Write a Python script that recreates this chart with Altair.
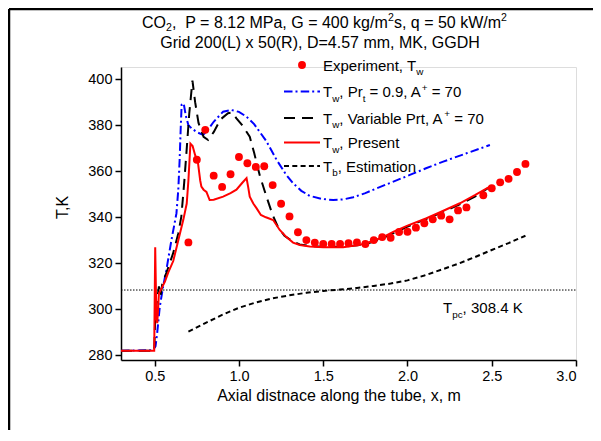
import altair as alt
import pandas as pd

# ---------------- data ----------------
exp_x = [0.70, 0.75, 0.80, 0.85, 0.90, 0.95, 1.00, 1.05, 1.10, 1.15, 1.20, 1.25, 1.30, 1.35,
         1.40, 1.45, 1.50, 1.55, 1.60, 1.65, 1.70, 1.75, 1.80, 1.85, 1.90, 1.95, 2.00, 2.05,
         2.10, 2.15, 2.20, 2.25, 2.30, 2.35, 2.45, 2.50, 2.55, 2.60, 2.65, 2.70]
exp_T = [329.1, 365.0, 378.0, 358.1, 353.2, 358.7, 366.2, 363.5, 361.9, 362.2, 354.0, 345.9,
         340.4, 333.5, 330.1, 329.0, 328.4, 328.4, 328.4, 328.7, 329.1, 328.4, 330.1, 331.4,
         331.1, 333.6, 333.7, 335.5, 337.4, 339.1, 340.7, 339.1, 343.0, 344.3, 349.6, 352.6,
         355.2, 356.7, 359.7, 363.2]

present_x = [0.30, 0.497, 0.503, 0.510, 0.515, 0.520, 0.525, 0.540, 0.560, 0.580, 0.610, 0.640,
             0.670, 0.690, 0.700, 0.712, 0.725, 0.740, 0.757, 0.770, 0.777, 0.790, 0.807, 0.826,
             0.850, 0.906, 0.950, 0.985, 1.020, 1.045, 1.055, 1.064, 1.085, 1.104, 1.130, 1.160,
             1.203, 1.242, 1.280, 1.321, 1.361, 1.420, 1.500, 1.618, 1.700, 1.757, 1.850, 1.915,
             2.000, 2.113, 2.200, 2.311, 2.400, 2.489]
present_T = [282.0, 282.0, 327.0, 296.0, 294.0, 300.0, 307.0, 309.0, 312.0, 316.0, 321.0, 330.0,
             339.0, 346.0, 356.0, 372.0, 371.0, 367.0, 363.5, 356.0, 353.3, 352.0, 351.0, 347.5,
             347.6, 349.0, 350.5, 352.0, 355.0, 357.0, 353.0, 349.0, 346.0, 344.0, 341.0, 340.0,
             338.8, 334.5, 331.5, 329.0, 328.0, 327.3, 327.0, 327.0, 327.8, 328.7, 331.2, 333.7,
             336.4, 339.6, 342.4, 346.1, 349.6, 353.3]

varprt_x = [0.30, 0.497, 0.505, 0.515, 0.525, 0.535, 0.545, 0.570, 0.609, 0.640, 0.658, 0.675,
            0.688, 0.705, 0.724, 0.740, 0.760, 0.790, 0.817, 0.850, 0.890, 0.935, 0.960, 0.985,
            1.020, 1.064, 1.090, 1.124, 1.163, 1.200, 1.230, 1.270, 1.320, 1.360, 1.420, 1.500,
            1.600, 1.700, 1.760, 1.850, 1.920, 2.000, 2.110, 2.200, 2.310, 2.400, 2.480]
varprt_T = [282.0, 282.0, 300.0, 304.0, 310.0, 306.0, 311.0, 316.0, 324.3, 333.0, 340.3, 355.0,
            367.8, 385.0, 399.4, 390.0, 381.0, 375.0, 373.6, 377.0, 382.5, 385.2, 385.5, 383.0,
            380.0, 375.0, 368.0, 358.0, 349.0, 341.0, 336.0, 332.0, 329.5, 328.2, 327.5, 327.2,
            327.2, 327.8, 328.5, 330.8, 333.2, 336.0, 339.2, 342.0, 345.6, 349.0, 352.8]

prt09_x = [0.30, 0.490, 0.505, 0.515, 0.530, 0.550, 0.569, 0.599, 0.629, 0.640, 0.648, 0.655,
           0.660, 0.672, 0.685, 0.700, 0.718, 0.750, 0.787, 0.810, 0.850, 0.906, 0.955, 1.000,
           1.045, 1.090, 1.124, 1.163, 1.223, 1.280, 1.321, 1.370, 1.420, 1.490, 1.559, 1.620,
           1.678, 1.750, 1.817, 1.920, 2.014, 2.110, 2.212, 2.350, 2.489]
prt09_T = [282.0, 282.3, 284.0, 290.0, 301.0, 310.0, 317.0, 330.0, 341.7, 352.0, 365.0, 380.0,
           389.0, 389.5, 384.0, 380.0, 378.7, 377.0, 375.8, 377.5, 381.5, 385.9, 386.6, 385.8,
           383.7, 380.5, 377.0, 373.0, 365.0, 358.5, 354.8, 351.5, 349.3, 348.0, 347.5, 347.8,
           348.7, 350.5, 352.6, 355.6, 358.4, 361.3, 364.2, 367.8, 371.4]

tb_x = [0.70, 0.80, 0.90, 1.00, 1.10, 1.20, 1.30, 1.40, 1.50, 1.60, 1.70, 1.80, 1.90, 2.00,
        2.10, 2.20, 2.30, 2.40, 2.50, 2.60, 2.70]
tb_T = [290.3, 294.0, 297.6, 300.7, 303.0, 304.8, 306.1, 307.2, 308.0, 308.6, 309.3, 310.2,
        311.2, 312.6, 314.7, 317.2, 319.8, 322.7, 325.8, 328.8, 332.0]

tpc_x = [0.3, 3.0]
tpc_T = [308.4, 308.4]

x_ticks = [0.5, 1.0, 1.5, 2.0, 2.5, 3.0]
y_ticks = [280, 300, 320, 340, 360, 380, 400]

title_1 = [("CO", "n"), ("2", "sub"), (",", "n"), ("  ", "n"), ("P = 8.12 MPa, G = 400 kg/m", "n"),
           ("2", "sup"), ("s, q = 50 kW/m", "n"), ("2", "sup")]
title_2 = [("Grid 200(L) x 50(R), D=4.57 mm, MK, GGDH", "n")]
legend_rows = [
    [("Experiment, T", "n"), ("w", "sub")],
    [("T", "n"), ("w", "sub"), (", Pr", "n"), ("t", "sub"), (" = 0.9, A", "n"), ("+", "sup"), (" = 70", "n")],
    [("T", "n"), ("w", "sub"), (", Variable Prt, A", "n"), ("+", "sup"), (" = 70", "n")],
    [("T", "n"), ("w", "sub"), (", Present", "n")],
    [("T", "n"), ("b", "sub"), (", Estimation", "n")],
]
tpc_label = [("T", "n"), ("pc", "sub"), (", 308.4 K", "n")]
x_title = "Axial distnace along the tube, x, m"
y_title = "T,K"

# ---------------- layout ----------------
FONT = "Liberation Sans"
PLOT_L, PLOT_T = 121, 67
W, H = 455, 293
xs = alt.Scale(domain=[0.3, 3.0], nice=False, zero=False)
ys = alt.Scale(domain=[278, 405.3], nice=False, zero=False)

common_axis = dict(grid=False, domainColor="black", tickColor="black", labelColor="black",
                   domainWidth=1.5, tickWidth=1.5, tickSize=6, labelFont=FONT,
                   labelFontSize=14.5, title=None)
xaxis = alt.Axis(values=x_ticks, format=".1f", labelPadding=3, **common_axis)
yaxis = alt.Axis(values=y_ticks, format="d", labelPadding=3, **common_axis)

AW = {' ': 278, ',': 278, '.': 278, '=': 584, '+': 584, '/': 278, '(': 333, ')': 333,
      'A': 667, 'C': 722, 'D': 722, 'E': 667, 'G': 778, 'H': 722, 'K': 667, 'L': 556, 'M': 833,
      'O': 778, 'P': 667, 'R': 722, 'T': 611, 'V': 667, 'W': 944,
      'a': 556, 'b': 556, 'c': 500, 'd': 556, 'e': 556, 'g': 556, 'h': 556, 'i': 222, 'k': 500,
      'l': 222, 'm': 833, 'n': 556, 'o': 556, 'p': 556, 'q': 556, 'r': 333, 's': 500, 't': 278,
      'u': 556, 'v': 500, 'w': 722, 'x': 500}


def tw(s, fs):
    return sum(AW.get(c, 556) for c in s) * fs / 1000.0


text_rows = []


def add_rich(parts, x0, base, fs, anchor="left", sub_dy=0.30):
    sizes = [fs if k == "n" else fs * 0.66 for _, k in parts]
    total = sum(tw(t, f) for (t, _), f in zip(parts, sizes))
    x = x0 - total / 2 if anchor == "center" else x0
    for (t, k), f in zip(parts, sizes):
        dy = 0 if k == "n" else (fs * sub_dy if k == "sub" else -fs * 0.42)
        lead = len(t) - len(t.lstrip(" "))
        s = t.strip(" ")
        if s:
            text_rows.append(dict(tx=x + tw(" " * lead, f) - PLOT_L, ty=base + dy - PLOT_T,
                                  t=s, fs=f))
        x += tw(t, f)


add_rich(title_1, 324.5, 27.5, 16, "center", sub_dy=0.2)
add_rich(title_2, 320, 47.5, 16, "center")
leg_base = [70.5, 97, 123.5, 148, 171.5]
for parts, b in zip(legend_rows, leg_base):
    add_rich(parts, 323, b, 15)
add_rich(tpc_label, 443, 313, 15)
add_rich([(x_title, "n")], 339, 401, 16, "center")

texts_df = pd.DataFrame(text_rows)


def line_df(xv, tv):
    return pd.DataFrame({"x": xv, "T": tv, "i": list(range(len(xv)))})


def line_layer(xv, tv, color, dash=None, width=2.0):
    kw = dict(color=color, strokeWidth=width, clip=True)
    if dash:
        kw["strokeDash"] = dash
    return alt.Chart(line_df(xv, tv)).mark_line(**kw).encode(
        x=alt.X("x:Q", scale=xs, axis=xaxis),
        y=alt.Y("T:Q", scale=ys, axis=yaxis),
        order="i:Q",
    )


tpc_layer = line_layer(tpc_x, tpc_T, "black", [1.5, 1.5], 1.0)
tb_layer = line_layer(tb_x, tb_T, "black", [5, 3.3], 2.0)
blue_layer = line_layer(prt09_x, prt09_T, "#0000FF", [8.5, 3, 2, 3.2], 2.0)
black_layer = line_layer(varprt_x, varprt_T, "black", [11, 7], 2.0)
red_layer = line_layer(present_x, present_T, "#FF0000", None, 2.0)

exp_layer = alt.Chart(pd.DataFrame({"x": exp_x, "T": exp_T})).mark_circle(
    size=62, color="#FF0000", opacity=1).encode(
    x=alt.X("x:Q", scale=xs, axis=xaxis),
    y=alt.Y("T:Q", scale=ys, axis=yaxis),
)

# legend samples (pixel positions)
leg_centers = [b - 5.5 for b in leg_base]
samples = [
    ("#0000FF", [8.5, 3, 2, 3.2], leg_centers[1]),
    ("black", [11, 7], leg_centers[2]),
    ("#FF0000", None, leg_centers[3]),
    ("black", [5, 3.3], leg_centers[4]),
]
legend_layers = []
for col, dash, yc in samples:
    kw = dict(color=col, strokeWidth=2)
    if dash:
        kw["strokeDash"] = dash
    legend_layers.append(
        alt.Chart(pd.DataFrame({"a": [284 - PLOT_L], "b": [320 - PLOT_L], "y": [yc - PLOT_T]}))
        .mark_rule(**kw)
        .encode(x=alt.X("a:Q", scale=None, axis=None), x2="b:Q",
                y=alt.Y("y:Q", scale=None, axis=None))
    )
legend_layers.append(
    alt.Chart(pd.DataFrame({"a": [302 - PLOT_L], "y": [leg_centers[0] - PLOT_T]}))
    .mark_circle(size=62, color="#FF0000", opacity=1)
    .encode(x=alt.X("a:Q", scale=None, axis=None), y=alt.Y("y:Q", scale=None, axis=None))
)

# figure frame (left and top edges)
frame_df = pd.DataFrame({"a": [9 - PLOT_L, 9 - PLOT_L], "b": [9 - PLOT_L, 593 - PLOT_L],
                         "c": [9 - PLOT_T, 9 - PLOT_T], "d": [441 - PLOT_T, 9 - PLOT_T]})
frame_layer = alt.Chart(frame_df).mark_rule(color="black", strokeWidth=2.5).encode(
    x=alt.X("a:Q", scale=None, axis=None), x2="b:Q",
    y=alt.Y("c:Q", scale=None, axis=None), y2="d:Q")

text_layer = alt.Chart(texts_df).mark_text(
    align="left", baseline="alphabetic", font=FONT, color="black").encode(
    x=alt.X("tx:Q", scale=None, axis=None),
    y=alt.Y("ty:Q", scale=None, axis=None),
    text="t:N",
    size=alt.Size("fs:Q", scale=None, legend=None),
)

ytitle_layer = alt.Chart(pd.DataFrame({"tx": [62.5 - PLOT_L], "ty": [207.5 - PLOT_T],
                                       "t": [y_title]})).mark_text(
    align="center", baseline="middle", angle=270, font=FONT, fontSize=16, color="black").encode(
    x=alt.X("tx:Q", scale=None, axis=None),
    y=alt.Y("ty:Q", scale=None, axis=None),
    text="t:N",
)

chart = alt.layer(
    frame_layer, tpc_layer, tb_layer, blue_layer, black_layer, red_layer, exp_layer,
    *legend_layers, text_layer, ytitle_layer,
).properties(
    width=W, height=H,
    autosize=alt.AutoSizeParams(type="none"),
    padding={"left": 113, "top": 59, "right": 17, "bottom": 70},
).configure_view(stroke=None).configure(background="white")

chart.save("out.html", embed_options={"renderer": "svg", "actions": False})
